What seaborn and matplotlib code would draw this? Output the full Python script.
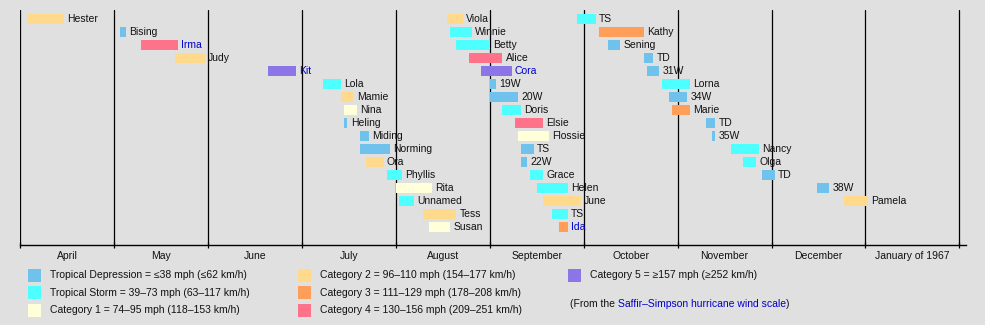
import calendar
import matplotlib
matplotlib.use("Agg")
import matplotlib.pyplot as plt
from matplotlib.patches import Rectangle
import seaborn as sns

# ---------------- data ----------------
storm_names = ["Hester", "Bising", "Irma", "Judy", "Kit", "Lola", "Mamie", "Nina", "Heling",
               "Miding", "Norming", "Ora", "Phyllis", "Rita", "Unnamed", "Tess", "Susan",
               "Viola", "Winnie", "Betty", "Alice", "Cora", "19W", "20W", "Doris", "Elsie",
               "Flossie", "TS", "22W", "Grace", "Helen", "June", "TS", "Ida",
               "TS", "Kathy", "Sening", "TD", "31W", "Lorna", "34W", "Marie", "TD", "35W",
               "Nancy", "Olga", "TD", "38W", "Pamela"]
storm_start = ["1966-04-03", "1966-05-03", "1966-05-10", "1966-05-21", "1966-06-20", "1966-07-08",
               "1966-07-14", "1966-07-15", "1966-07-15", "1966-07-20", "1966-07-20", "1966-07-22",
               "1966-07-29", "1966-08-01", "1966-08-02", "1966-08-10", "1966-08-12",
               "1966-08-18", "1966-08-19", "1966-08-21", "1966-08-25", "1966-08-29", "1966-09-01",
               "1966-09-01", "1966-09-05", "1966-09-09", "1966-09-10", "1966-09-11", "1966-09-11",
               "1966-09-14", "1966-09-16", "1966-09-18", "1966-09-21", "1966-09-23",
               "1966-09-29", "1966-10-06", "1966-10-09", "1966-10-21", "1966-10-22", "1966-10-27",
               "1966-10-29", "1966-10-30", "1966-11-10", "1966-11-12", "1966-11-18", "1966-11-22",
               "1966-11-28", "1966-12-16", "1966-12-25"]
storm_end = ["1966-04-15", "1966-05-05", "1966-05-22", "1966-05-31", "1966-06-29", "1966-07-14",
             "1966-07-18", "1966-07-19", "1966-07-16", "1966-07-23", "1966-07-30", "1966-07-28",
             "1966-08-03", "1966-08-13", "1966-08-07", "1966-08-21", "1966-08-19",
             "1966-08-23", "1966-08-26", "1966-09-01", "1966-09-05", "1966-09-08", "1966-09-03",
             "1966-09-10", "1966-09-11", "1966-09-18", "1966-09-20", "1966-09-15", "1966-09-13",
             "1966-09-18", "1966-09-26", "1966-09-30", "1966-09-26", "1966-09-26",
             "1966-10-05", "1966-10-21", "1966-10-13", "1966-10-24", "1966-10-26", "1966-11-05",
             "1966-11-04", "1966-11-05", "1966-11-13", "1966-11-13", "1966-11-27", "1966-11-26",
             "1966-12-02", "1966-12-20", "1967-01-02"]
storm_cat = ["C2", "TD", "C4", "C2", "C5", "TS", "C2", "C1", "TD",
             "TD", "TD", "C2", "TS", "C1", "TS", "C2", "C1",
             "C2", "TS", "TS", "C4", "C5", "TD", "TD", "TS", "C4",
             "C1", "TD", "TD", "TS", "TS", "C2", "TS", "C3",
             "TS", "C3", "TD", "TD", "TD", "TS", "TD", "C3", "TD", "TD",
             "TS", "TS", "TD", "TD", "C2"]
linked_names = ["Irma", "Kit", "Cora", "Ida"]

month_labels = ["April", "May", "June", "July", "August", "September", "October",
                "November", "December", "January of 1967"]

cat_ids = ["TD", "TS", "C1", "C2", "C3", "C4", "C5"]
cat_colors = ["#6ec2eb", "#4dffff", "#ffffd9", "#ffd98c", "#ff9e59", "#ff738a", "#8c75e6"]
cat_legend = ["Tropical Depression = \u226438 mph (\u226462 km/h)",
              "Tropical Storm = 39\u201373 mph (63\u2013117 km/h)",
              "Category 1 = 74\u201395 mph (118\u2013153 km/h)",
              "Category 2 = 96\u2013110 mph (154\u2013177 km/h)",
              "Category 3 = 111\u2013129 mph (178\u2013208 km/h)",
              "Category 4 = 130\u2013156 mph (209\u2013251 km/h)",
              "Category 5 = \u2265157 mph (\u2265252 km/h)"]

ROWS_PER_BLOCK = 17

# ---------------- style ----------------
BG = "#e0e0e0"
LINK = "#0000cc"
sns.set_theme(style="white", rc={"axes.facecolor": BG, "figure.facecolor": BG})
plt.rcParams["font.family"] = ["Liberation Sans", "DejaVu Sans"]
FS = 7.5

W, H = 985, 325
fig = plt.figure(figsize=(W / 100, H / 100), dpi=100)
fig.patch.set_facecolor(BG)

PX_MONTH = 93.9
X0, X1 = 20.3, 966.0
YTOP, YBOT = 10.0, 245.0
ROW0, ROWSTEP = 19.0, 13.0

ax = fig.add_axes([X0 / W, (H - YBOT) / H, (X1 - X0) / W, (YBOT - YTOP) / H])
ax.set_facecolor(BG)


def month_pos(datestr):
    y, m, d = (int(v) for v in datestr.split("-"))
    idx = (y - 1966) * 12 + (m - 4)
    return idx + (d - 1) / calendar.monthrange(y, m)[1]


color_of = dict(zip(cat_ids, cat_colors))

for i, (name, s, e, c) in enumerate(zip(storm_names, storm_start, storm_end, storm_cat)):
    row = i % ROWS_PER_BLOCK
    x0, x1 = month_pos(s), month_pos(e)
    ax.barh(row, x1 - x0, left=x0, height=0.83, color=color_of[c], linewidth=0, zorder=3)
    ax.annotate(name, (x1, row), xytext=(2.3, 0), textcoords="offset points",
                va="center", ha="left", fontsize=FS,
                color=LINK if name in linked_names else "#111111", zorder=4)

# month separator lines
for m in range(len(month_labels) + 1):
    ax.axvline(m, color="black", lw=0.9, zorder=2)

ax.set_xlim(0, (X1 - X0) / PX_MONTH)
ax.set_ylim((YBOT - ROW0) / ROWSTEP, (YTOP - ROW0) / ROWSTEP)

for sp in ["top", "left", "right"]:
    ax.spines[sp].set_visible(False)
ax.spines["bottom"].set_color("black")
ax.spines["bottom"].set_linewidth(1.0)
ax.set_yticks([])
ax.set_xticks(range(len(month_labels) + 1))
ax.set_xticklabels([])
ax.set_xticks([m + 0.5 for m in range(len(month_labels))], minor=True)
ax.set_xticklabels(month_labels, minor=True, fontsize=FS, color="#111111")
ax.tick_params(axis="x", which="major", direction="inout", length=4, width=0.9,
               color="black", bottom=True)
ax.tick_params(axis="x", which="minor", length=0, pad=4)
ax.grid(False)

# ---------------- legend ----------------
lg = fig.add_axes([0, 0, 1, 1], zorder=-1)
lg.set_xlim(0, W)
lg.set_ylim(H, 0)
lg.axis("off")
lg.patch.set_alpha(0)

col_x = [28, 298, 568]
row_y = [275.5, 292.5, 310]
for k, (col, lab) in enumerate(zip(cat_colors, cat_legend)):
    cx = col_x[k // 3]
    cy = row_y[k % 3]
    lg.add_patch(Rectangle((cx, cy - 6.5), 13, 13, facecolor=col, edgecolor="none"))
    lg.text(cx + 22, cy, lab, va="center", ha="left", fontsize=FS, color="#111111")

note_y = 304
t1 = lg.text(570, note_y, "(From the ", va="center", ha="left", fontsize=FS, color="#111111")
t2 = lg.annotate("Saffir\u2013Simpson hurricane wind scale", xycoords=t1, xy=(1, 0.5),
                 va="center", ha="left", fontsize=FS, color=LINK)
lg.annotate(")", xycoords=t2, xy=(1, 0.5), va="center", ha="left", fontsize=FS, color="#111111")

fig.savefig("out.png", dpi=100, facecolor=BG)
